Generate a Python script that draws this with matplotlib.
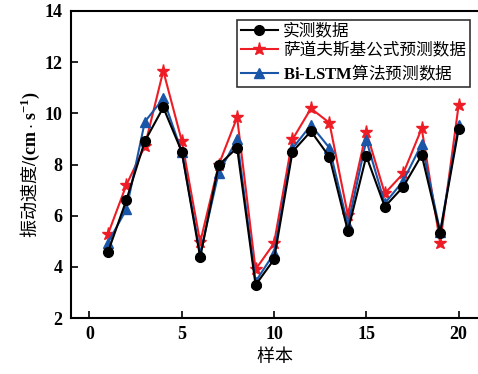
import numpy as np
import matplotlib
matplotlib.use("Agg")
import matplotlib.pyplot as plt

plt.rcParams['font.family'] = ['Liberation Serif', 'Noto Sans CJK SC']
plt.rcParams['mathtext.fontset'] = 'custom'
plt.rcParams['mathtext.rm'] = 'Noto Sans CJK SC'
plt.rcParams['mathtext.bf'] = 'Liberation Serif:bold'

### Data
samples = np.arange(1, 21)
measured = [4.57, 6.61, 8.91, 10.23, 8.5, 4.37, 7.98, 8.65, 3.29, 4.29,
            8.5, 9.3, 8.3, 5.4, 8.33, 6.35, 7.13, 8.37, 5.33, 9.38]
sadovsky = [5.27, 7.2, 8.72, 11.66, 8.93, 4.96, 7.98, 9.84, 3.9, 4.92,
            8.98, 10.19, 9.63, 6.02, 9.28, 6.87, 7.65, 9.41, 4.94, 10.32]
bilstm = [4.94, 6.25, 9.67, 10.58, 8.5, 4.52, 7.68, 8.98, 3.42, 4.53,
          8.63, 9.54, 8.65, 5.63, 8.95, 6.48, 7.36, 8.8, 5.37, 9.54]

labels = ["实测数据", "萨道夫斯基公式预测数据",
          r"$\mathbf{Bi\text{-}LSTM}\mathrm{算法预测数据}$"]
xticks = [0, 5, 10, 15, 20]
yticks = [2, 4, 6, 8, 10, 12, 14]

fs_t = 13
fs = 13
fs_l = 12
lw = 1.5

fig = plt.figure(figsize=(4.78, 3.74), dpi=100)
ax = fig.add_axes([0.1485, 0.1497, 0.8515, 0.8209])

ax.plot(samples, measured, color="black", marker="o", ms=7, lw=lw, label=labels[0], zorder=3)
ax.plot(samples, sadovsky, color="#ee1c25", marker="*", ms=9.5, lw=lw, label=labels[1], zorder=2)
ax.plot(samples, bilstm, color="#1a56a8", marker="^", ms=7, lw=lw, label=labels[2], zorder=2)

ax.set_xlim(-1, 21.05)
ax.set_ylim(2, 14)
ax.set_xticks(xticks)
ax.set_yticks(yticks)
ax.tick_params(axis='both', direction='in', length=5, width=1.2, labelsize=fs_t, pad=6)
ax.tick_params(top=False, right=False)
for lab in ax.get_xticklabels() + ax.get_yticklabels():
    lab.set_fontweight('bold')
for s in ['left', 'bottom', 'top']:
    ax.spines[s].set_linewidth(1.5)
ax.spines['right'].set_visible(False)

ax.set_xlabel(r"$\mathrm{样本}$", fontsize=fs, labelpad=1)
ax.set_ylabel(r"$\mathrm{振动速度}\mathbf{/(cm\cdot s^{-1})}$", fontsize=fs, labelpad=2)

leg = ax.legend(loc="upper right", bbox_to_anchor=(0.98, 0.972), fontsize=fs_l,
                frameon=True, fancybox=False, edgecolor="black", handlelength=2.2,
                handletextpad=0.3, borderpad=0.25, labelspacing=0.2, borderaxespad=0)
leg.get_frame().set_linewidth(1.2)

plt.savefig("out.png", dpi=100)
